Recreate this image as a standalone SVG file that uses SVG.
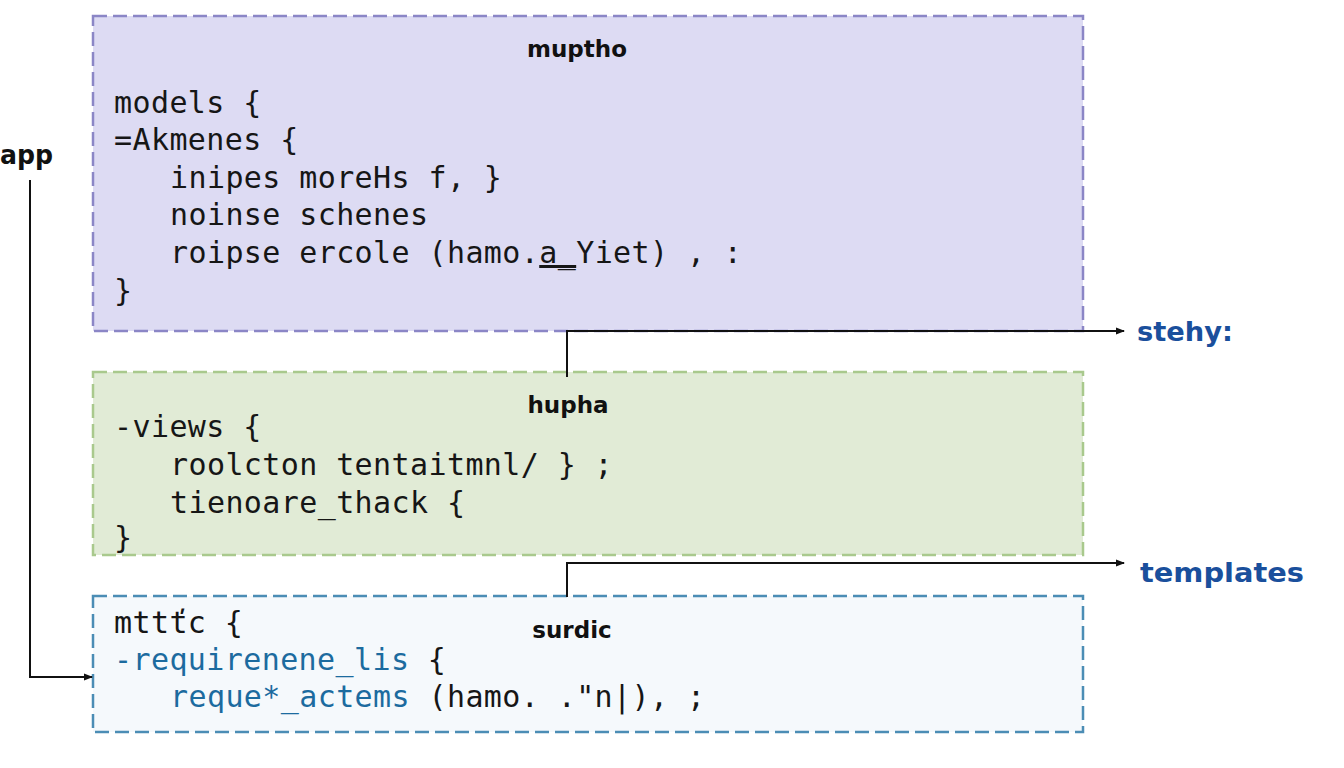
<svg xmlns="http://www.w3.org/2000/svg" width="1344" height="768" viewBox="0 0 1344 768">
<defs>
<marker id="arr" markerWidth="10" markerHeight="10" refX="8" refY="5" orient="auto" markerUnits="userSpaceOnUse">
<path d="M0,1.5 L9,5 L0,8.5 Z" fill="#111"/>
</marker>
<style>
.code{font-family:"DejaVu Sans Mono","Liberation Mono",monospace;font-size:30px;letter-spacing:0.4px;fill:#161616}
.blue{fill:#1c6b9f}
.title{font-family:"DejaVu Sans","Liberation Sans",sans-serif;font-weight:bold;font-size:23px;fill:#111;text-anchor:middle}
.lbl{font-family:"DejaVu Sans","Liberation Sans",sans-serif;font-weight:bold;font-size:26px}
.conn{fill:none;stroke:#111;stroke-width:2}
</style>
</defs>
<rect width="1344" height="768" fill="#ffffff"/>
<g id="models">
<rect x="93" y="16" width="990" height="315" fill="#dddbf3" stroke="#8b86c6" stroke-width="2.5" stroke-dasharray="14,6"/>
<text class="title" x="577" y="57">muptho</text>
<text class="code" x="114" y="113">models {</text>
<text class="code" x="114" y="150">=Akmenes {</text>
<text class="code" x="170" y="188">inipes moreHs f, }</text>
<text class="code" x="170" y="225">noinse schenes</text>
<text class="code" x="170" y="263">roipse ercole (hamo.<tspan text-decoration="underline">a_</tspan>Yiet) , :</text>
<text class="code" x="114" y="301">}</text>
</g>
<g id="views">
<rect x="93" y="372" width="990" height="183" fill="#e1ebd6" stroke="#a9c98d" stroke-width="2.5" stroke-dasharray="14,6"/>
<text class="title" x="568" y="413">hupha</text>
<text class="code" x="114" y="437">-views {</text>
<text class="code" x="170" y="475">roolcton tentaitmnl/ } ;</text>
<text class="code" x="170" y="513">tienoare_thack {</text>
<text class="code" x="114" y="548">}</text>
</g>
<g id="static">
<rect x="93" y="596" width="990" height="136" fill="#f5f9fc" stroke="#4b8db5" stroke-width="2.5" stroke-dasharray="14,6"/>
<text class="title" x="572" y="638">surdic</text>
<text class="code" x="114" y="633">mttťc {</text>
<text class="code" x="114" y="670"><tspan class="blue">-requirenene_lis</tspan> {</text>
<text class="code" x="170" y="707"><tspan class="blue">reque*_actems</tspan> (hamo. ."n|), ;</text>
</g>
<g id="connectors">
<path class="conn" d="M30,180 V677 H92" marker-end="url(#arr)"/>
<path class="conn" d="M567,377 V331 H1124" marker-end="url(#arr)"/>
<path class="conn" d="M567,597 V563 H1124" marker-end="url(#arr)"/>
</g>
<g id="labels">
<text class="lbl" x="0" y="164" fill="#111" textLength="53" lengthAdjust="spacingAndGlyphs">app</text>
<text class="lbl" x="1137" y="341" fill="#1a4f9c" textLength="96" lengthAdjust="spacingAndGlyphs">stehy:</text>
<text class="lbl" x="1140" y="582" fill="#1a4f9c" textLength="164" lengthAdjust="spacingAndGlyphs">templates</text>
</g>
</svg>
